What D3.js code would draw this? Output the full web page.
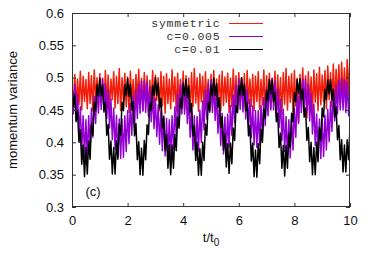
<!DOCTYPE html>
<html>
<head>
<meta charset="utf-8">
<script src="https://cdn.jsdelivr.net/npm/d3@7"></script>
<style>
  body { margin: 0; background: #fff; }
  svg { display: block; }
</style>
</head>
<body>
<div id="chart"></div>
<script>
// time axis, step 0.05 t/t0
var tValues = d3.range(0, 201).map(function(k){ return k / 20; });

var symmetric = [
  .478, .462, .505, .455, .498, .458, .510, .450, .502, .463,
  .497, .452, .508, .460, .503, .448, .512, .465, .500, .455,
  .506, .462, .499, .447, .511, .458, .504, .451, .498, .466,
  .509, .453, .502, .460, .514, .449, .500, .463, .507, .455,
  .501, .446, .510, .459, .497, .452, .505, .464, .513, .457,
  .499, .450, .508, .461, .503, .447, .496, .458, .511, .453,
  .504, .465, .500, .449, .509, .456, .502, .445, .506, .460,
  .498, .452, .512, .463, .501, .448, .507, .457, .497, .462,
  .510, .450, .503, .459, .499, .444, .508, .455, .514, .461,
  .500, .448, .506, .463, .502, .451, .509, .458, .497, .446,
  .505, .460, .511, .453, .498, .465, .504, .449, .510, .457,
  .501, .462, .507, .446, .499, .455, .513, .459, .503, .450,
  .508, .464, .500, .452, .506, .447, .511, .460, .498, .455,
  .505, .449, .502, .463, .509, .451, .497, .458, .512, .444,
  .503, .461, .507, .452, .499, .466, .510, .448, .504, .457,
  .500, .443, .508, .459, .514, .450, .502, .462, .506, .447,
  .511, .456, .499, .432, .505, .460, .515, .451, .503, .438,
  .509, .457, .501, .445, .512, .462, .506, .449, .516, .458,
  .504, .463, .511, .452, .518, .466, .508, .455, .521, .461,
  .513, .468, .520, .459, .524, .470, .515, .463, .528, .472,
  .537
];

var c005 = [
  .494, .444, .489, .432, .474, .410, .455, .389, .441, .377,
  .435, .376, .441, .388, .453, .408, .471, .429, .488, .445,
  .498, .451, .498, .447, .491, .437, .481, .422, .467, .404,
  .453, .389, .442, .378, .436, .375, .436, .377, .441, .386,
  .449, .398, .460, .411, .472, .425, .482, .437, .490, .445,
  .495, .448, .495, .446, .492, .440, .486, .432, .478, .421,
  .468, .409, .458, .397, .449, .387, .441, .379, .437, .376,
  .435, .377, .441, .389, .455, .411, .474, .432, .489, .444,
  .494, .444, .488, .429, .471, .408, .453, .388, .441, .381,
  .440, .386, .450, .400, .464, .419, .480, .436, .491, .447,
  .496, .446, .491, .434, .477, .414, .459, .395, .445, .382,
  .439, .382, .444, .392, .457, .411, .473, .430, .489, .446,
  .498, .451, .498, .447, .491, .436, .481, .421, .467, .407,
  .456, .396, .449, .392, .449, .396, .457, .409, .469, .426,
  .484, .441, .495, .450, .499, .450, .494, .440, .483, .423,
  .467, .403, .451, .386, .440, .376, .435, .376, .440, .388,
  .453, .408, .471, .429, .488, .446, .498, .451, .498, .446,
  .490, .433, .475, .413, .459, .395, .444, .380, .436, .375,
  .436, .378, .442, .388, .451, .401, .463, .417, .477, .433,
  .489, .444, .496, .450, .499, .450, .496, .446, .493, .441,
  .490
];

var c01 = [
  .485, .455, .474, .433, .449, .400, .419, .366, .396, .347,
  .392, .351, .402, .374, .428, .411, .462, .449, .489, .472,
  .499, .472, .489, .449, .462, .411, .428, .374, .402, .351,
  .392, .351, .402, .374, .428, .411, .462, .449, .489, .472,
  .499, .471, .490, .450, .463, .410, .429, .373, .401, .350,
  .391, .349, .403, .373, .427, .412, .461, .450, .488, .473,
  .500, .473, .491, .453, .468, .422, .439, .387, .412, .360,
  .396, .350, .396, .360, .412, .387, .439, .422, .468, .453,
  .491, .472, .497, .470, .487, .447, .460, .410, .426, .372,
  .400, .349, .390, .349, .400, .372, .428, .411, .462, .449,
  .489, .472, .499, .473, .491, .454, .469, .423, .440, .388,
  .413, .362, .398, .352, .399, .367, .422, .403, .457, .446,
  .488, .473, .500, .473, .489, .449, .461, .410, .426, .371,
  .399, .347, .388, .346, .398, .367, .420, .400, .451, .437,
  .480, .464, .497, .475, .496, .463, .477, .432, .445, .392,
  .414, .360, .395, .348, .395, .360, .414, .392, .445, .432,
  .477, .463, .497, .476, .498, .466, .482, .439, .453, .403,
  .423, .370, .400, .350, .392, .350, .400, .370, .423, .403,
  .453, .439, .482, .466, .497, .475, .497, .465, .482, .439,
  .455, .404, .426, .373, .404, .354, .396, .354, .404, .373,
  .426
];

var seriesNames = ["symmetric", "c=0.005", "c=0.01"];
var seriesColors = ["#f01e0a", "#9400d3", "#000000"];
var xTicks = [0, 2, 4, 6, 8, 10];
var yTicks = [0.3, 0.35, 0.4, 0.45, 0.5, 0.55, 0.6];

var width = 374, height = 262;
var margin = {top: 13, right: 24, bottom: 55, left: 72};
var font = "'Liberation Sans', Arial, sans-serif";

var svg = d3.select("#chart").append("svg")
    .attr("width", width)
    .attr("height", height);

var xScale = d3.scaleLinear().domain([0, 10]).range([margin.left, width - margin.right]);
var yScale = d3.scaleLinear().domain([0.3, 0.6]).range([height - margin.bottom, margin.top]);

svg.append("clipPath").attr("id", "plot-clip")
  .append("rect")
    .attr("x", xScale(0)).attr("y", yScale(0.6))
    .attr("width", xScale(10) - xScale(0))
    .attr("height", yScale(0.3) - yScale(0.6));

// data lines, drawn in gnuplot order
var line = d3.line()
    .x(function(d, i){ return xScale(tValues[i]); })
    .y(function(d){ return yScale(d); });

var plot = svg.append("g").attr("clip-path", "url(#plot-clip)");
[symmetric, c005, c01].forEach(function(data, i){
  plot.append("path")
      .attr("d", line(data))
      .attr("fill", "none")
      .attr("stroke", seriesColors[i])
      .attr("stroke-width", 1.5)
      .attr("stroke-linejoin", "round");
});

// axes with inward ticks, mirrored
function styleAxis(g){
  g.select(".domain").remove();
  g.selectAll("line").attr("stroke", "#333");
  g.selectAll("text").attr("fill", "#111").attr("font-family", font).attr("font-size", 13);
}

svg.append("g")
    .attr("transform", "translate(0," + yScale(0.3) + ")")
    .call(d3.axisBottom(xScale).tickValues(xTicks).tickSizeInner(-4).tickSizeOuter(0).tickPadding(9))
    .call(styleAxis);

svg.append("g")
    .attr("transform", "translate(0," + yScale(0.6) + ")")
    .call(d3.axisTop(xScale).tickValues(xTicks).tickSizeInner(-4).tickSizeOuter(0).tickFormat(""))
    .call(styleAxis);

svg.append("g")
    .attr("transform", "translate(" + xScale(0) + ",0)")
    .call(d3.axisLeft(yScale).tickValues(yTicks).tickSizeInner(-4).tickSizeOuter(0).tickPadding(8)
      .tickFormat(function(d){ return String(d); }))
    .call(styleAxis);

svg.append("g")
    .attr("transform", "translate(" + xScale(10) + ",0)")
    .call(d3.axisRight(yScale).tickValues(yTicks).tickSizeInner(-4).tickSizeOuter(0).tickFormat(""))
    .call(styleAxis);

// frame
svg.append("rect")
    .attr("x", xScale(0) + 0.5).attr("y", yScale(0.6) + 0.5)
    .attr("width", xScale(10) - xScale(0) - 1)
    .attr("height", yScale(0.3) - yScale(0.6) - 1)
    .attr("fill", "none")
    .attr("stroke", "#333")
    .attr("stroke-width", 1);

// axis titles
svg.append("text")
    .attr("transform", "translate(17," + (yScale(0.45)) + ") rotate(-90)")
    .attr("text-anchor", "middle")
    .attr("font-family", font).attr("font-size", 13).attr("fill", "#111")
    .text("momentum variance");

var xt = svg.append("text")
    .attr("x", (xScale(0) + xScale(10)) / 2)
    .attr("y", 242)
    .attr("text-anchor", "middle")
    .attr("font-family", font).attr("font-size", 13).attr("fill", "#111");
xt.append("tspan").text("t/t");
xt.append("tspan").attr("dy", 4).attr("font-size", 10).text("0");

svg.append("text")
    .attr("x", 93).attr("y", 196)
    .attr("text-anchor", "middle")
    .attr("font-family", font).attr("font-size", 13).attr("fill", "#111")
    .text("(c)");

// legend
var legend = svg.append("g").attr("class", "legend");
seriesNames.forEach(function(name, i){
  var y = 22.5 + i * 13.2;
  legend.append("text")
      .attr("x", 220.5).attr("y", y)
      .attr("dy", "0.35em")
      .attr("text-anchor", "end")
      .attr("font-family", "'Liberation Mono', 'DejaVu Sans Mono', monospace")
      .attr("font-size", 11.5)
      .attr("letter-spacing", "0.8px")
      .attr("fill", "#333")
      .text(name);
  legend.append("line")
      .attr("x1", 229).attr("x2", 263)
      .attr("y1", Math.round(y) + 0.5).attr("y2", Math.round(y) + 0.5)
      .attr("stroke", seriesColors[i])
      .attr("stroke-width", 1);
});
</script>
</body>
</html>
